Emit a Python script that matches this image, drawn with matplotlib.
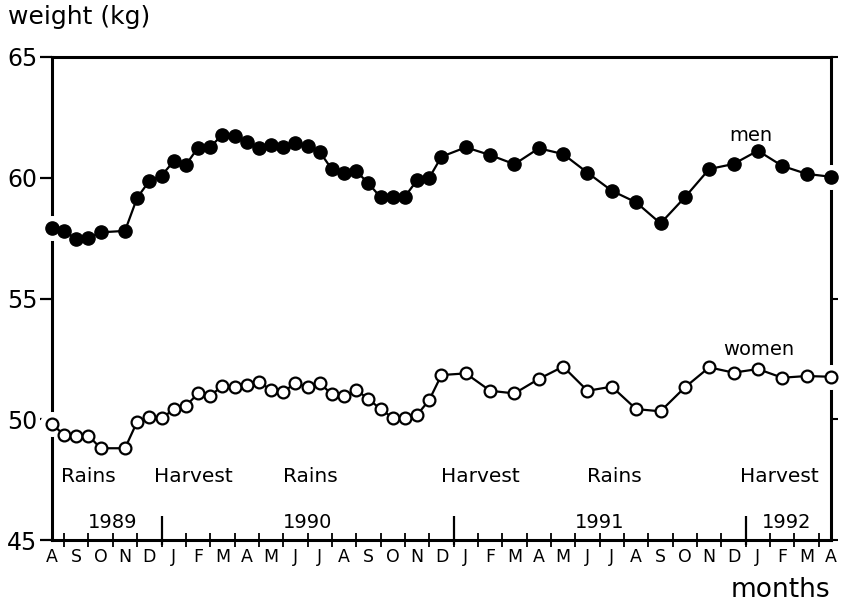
import numpy as np
import matplotlib
matplotlib.use("Agg")
import matplotlib.pyplot as plt

# -----------------------------
# DATA
# -----------------------------

# month index: 0 = Aug 1989 ... 32 = Apr 1992
months_x = [0, 0.5, 1, 1.5, 2,
            3, 3.5, 4, 4.5, 5, 5.5, 6, 6.5, 7, 7.5, 8, 8.5, 9, 9.5, 10,
            10.5, 11, 11.5, 12, 12.5, 13, 13.5, 14, 14.5, 15, 15.5, 16,
            17, 18, 19, 20, 21, 22, 23, 24, 25, 26, 27, 28, 29, 30, 31, 32]

men = [57.93, 57.8, 57.46, 57.5, 57.74,
       57.8, 59.17, 59.87, 60.09, 60.68, 60.53, 61.25, 61.27, 61.78, 61.73,
       61.48, 61.22, 61.34, 61.29, 61.44, 61.31, 61.07, 60.35, 60.21, 60.27,
       59.77, 59.19, 59.22, 59.22, 59.9, 60.0, 60.87,
       61.26, 60.94, 60.56, 61.22, 60.98, 60.21, 59.46, 58.98, 58.11, 59.19,
       60.36, 60.57, 61.12, 60.49, 60.16, 60.04]

women = [49.8, 49.35, 49.31, 49.32, 48.8,
         48.8, 49.9, 50.08, 50.04, 50.41, 50.55, 51.07, 50.97, 51.38, 51.35,
         51.42, 51.56, 51.21, 51.14, 51.49, 51.35, 51.5, 51.03, 50.96, 51.21,
         50.84, 50.42, 50.06, 50.06, 50.18, 50.8, 51.83,
         51.9, 51.18, 51.07, 51.67, 52.18, 51.18, 51.35, 50.42, 50.33, 51.32,
         52.15, 51.93, 52.08, 51.72, 51.79, 51.76]

month_labels = ["A", "S", "O", "N", "D", "J", "F", "M", "A", "M", "J", "J",
                "A", "S", "O", "N", "D", "J", "F", "M", "A", "M", "J", "J",
                "A", "S", "O", "N", "D", "J", "F", "M", "A"]

year_breaks = [4.5, 16.5, 28.5]
years = ["1989", "1990", "1991", "1992"]
year_pos = [2.5, 10.5, 22.5, 30.2]

seasons = ["Rains", "Harvest", "Rains", "Harvest", "Rains", "Harvest"]
season_pos = [1.5, 5.8, 10.6, 17.6, 23.1, 29.9]

y_ticks = [45, 50, 55, 60, 65]

# -----------------------------
# STYLE
# -----------------------------

plt.rcParams['font.family'] = ['DejaVu Sans']
LW = 1.6

# -----------------------------
# FIGURE
# -----------------------------

fig = plt.figure(figsize=(8.41, 6.05), dpi=100)
ax = fig.add_axes([0.0618, 0.1074, 0.9262, 0.7984])

ax.set_xlim(0, 32)
ax.set_ylim(45, 65)

for s in ax.spines.values():
    s.set_linewidth(2.2)
    s.set_zorder(1)

# white halos on the end points cut the side frames
ends = [0, -1]
ax.plot([months_x[i] for i in ends], [men[i] for i in ends], "o", color="white",
        markersize=17, zorder=2, clip_on=False)
ax.plot([months_x[i] for i in ends], [women[i] for i in ends], "o", color="white",
        markersize=17, zorder=2, clip_on=False)

ax.plot(months_x, men, "-o", color="black", lw=LW, markersize=9.5,
        zorder=3, clip_on=False)
ax.plot(months_x, women, "-o", color="black", lw=LW, markersize=8.5,
        markerfacecolor="white", markeredgewidth=1.6, zorder=3, clip_on=False)

# y axis
ax.set_yticks(y_ticks)
ax.set_yticklabels([str(v) for v in y_ticks])
ax.tick_params(axis="y", direction="out", length=8.5, width=1.6,
               labelsize=17, pad=2)

right = ax.secondary_yaxis("right")
right.set_yticks(y_ticks)
right.set_yticklabels([])
right.tick_params(axis="y", direction="out", length=5, width=1.5)
right.spines["right"].set_visible(False)

# x axis
ax.set_xticks(range(len(month_labels)))
ax.set_xticklabels(month_labels)
ax.set_xticks(np.arange(0.5, 32, 1), minor=True)
ax.tick_params(axis="x", which="major", length=0, labelsize=12.5, pad=6)
ax.tick_params(axis="x", which="minor", direction="inout", length=10, width=1.3)

ax.vlines(year_breaks, 44.8, 46.0, color="black", lw=1.6, clip_on=False)

for lab, xp in zip(years, year_pos):
    ax.text(xp, 45.35, lab, ha="center", va="bottom", fontsize=14)

for lab, xp in zip(seasons, season_pos):
    ax.text(xp, 47.65, lab, ha="center", va="center", fontsize=14.5)

ax.text(28.7, 61.77, "men", ha="center", va="center", fontsize=14)
ax.text(29.05, 52.9, "women", ha="center", va="center", fontsize=14)

fig.text(0.009, 0.972, "weight (kg)", ha="left", va="center", fontsize=18)
fig.text(0.987, 0.025, "months", ha="right", va="center", fontsize=19)

plt.savefig("out.png", dpi=100)
